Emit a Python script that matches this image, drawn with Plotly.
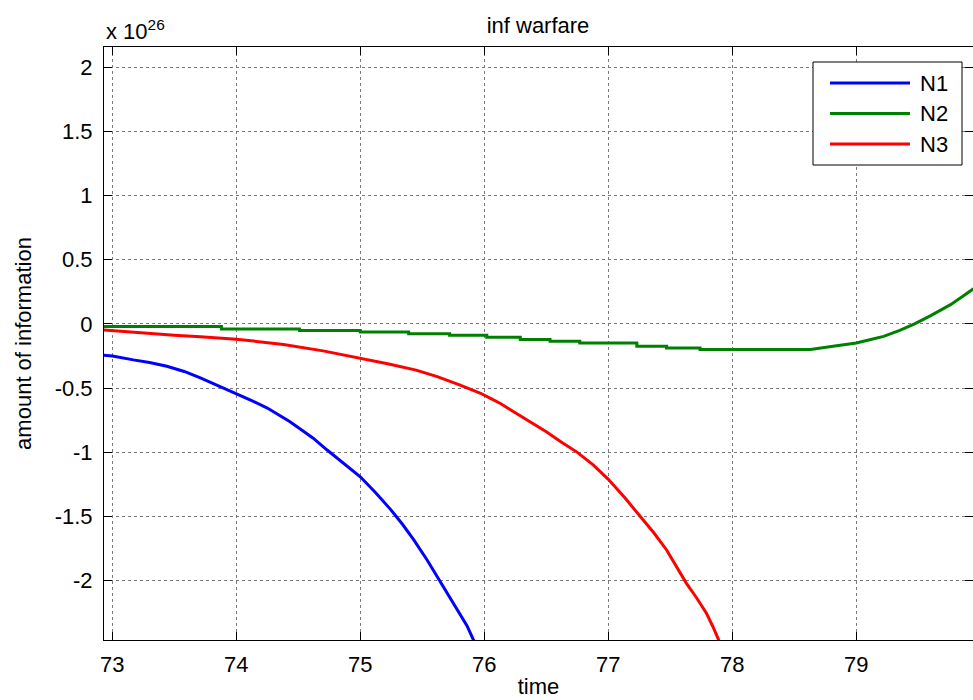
import plotly.graph_objects as go

# values in units of 1e26
n1_x = [72.90, 73.00, 73.17, 73.30, 73.44, 73.58, 73.71, 73.85, 74.00, 74.12, 74.25, 74.34, 74.43, 74.51, 74.62,
        74.73, 74.86, 75.00, 75.12, 75.24, 75.34, 75.43, 75.54, 75.64, 75.72, 75.80, 75.86, 75.91, 75.95]
n1_y = [-0.24, -0.25, -0.28, -0.30, -0.33, -0.37, -0.42, -0.48, -0.54, -0.595, -0.655, -0.705, -0.76, -0.815, -0.89,
        -0.98, -1.08, -1.19, -1.31, -1.44, -1.56, -1.68, -1.84, -2.0, -2.12, -2.25, -2.35, -2.455, -2.52]

n2_x = [72.90, 73.88, 73.88, 74.51, 74.51, 75.00, 75.00, 75.39, 75.39, 75.72, 75.72, 76.02, 76.02, 76.29, 76.29,
        76.53, 76.53, 76.77, 76.77, 77.23, 77.23, 77.47, 77.47, 77.74, 77.74, 78.63, 78.77, 78.92, 79.00, 79.10,
        79.22, 79.35, 79.47, 79.60, 79.70, 79.76, 79.85, 79.94, 80.0]
n2_y = [-0.02, -0.02, -0.04, -0.04, -0.052, -0.052, -0.062, -0.062, -0.076, -0.076, -0.089, -0.089, -0.104, -0.104, -0.122,
        -0.122, -0.135, -0.135, -0.148, -0.148, -0.174, -0.174, -0.187, -0.187, -0.20, -0.20, -0.18, -0.16, -0.148, -0.125,
        -0.097, -0.05, 0.0, 0.065, 0.12, 0.15, 0.21, 0.27, 0.31]

n3_x = [72.90, 73.30, 73.50, 73.71, 74.00, 74.20, 74.38, 74.70, 75.00, 75.22, 75.45, 75.62, 75.80, 75.97, 76.05,
        76.13, 76.23, 76.37, 76.50, 76.62, 76.75, 76.88, 77.00, 77.13, 77.26, 77.37, 77.47, 77.55, 77.63, 77.71,
        77.79, 77.84, 77.89, 77.93]
n3_y = [-0.045, -0.076, -0.088, -0.10, -0.12, -0.14, -0.16, -0.21, -0.265, -0.31, -0.36, -0.41, -0.475, -0.54, -0.58,
        -0.62, -0.68, -0.76, -0.84, -0.92, -1.0, -1.10, -1.21, -1.35, -1.50, -1.63, -1.76, -1.89, -2.02, -2.13,
        -2.25, -2.35, -2.46, -2.53]

series_names = ["N1", "N2", "N3"]
series_colors = ["#0000FF", "#008000", "#FF0000"]

x_ticks = [73, 74, 75, 76, 77, 78, 79]
y_ticks = [-2, -1.5, -1, -0.5, 0, 0.5, 1, 1.5, 2]
y_tick_text = ["-2", "-1.5", "-1", "-0.5", "0", "0.5", "1", "1.5", "2"]

FONT = "Liberation Sans, Arial, sans-serif"
FS = 22

fig = go.Figure()
for xs, ys, name, col in zip([n1_x, n2_x, n3_x], [n1_y, n2_y, n3_y], series_names, series_colors):
    fig.add_trace(go.Scatter(x=xs, y=ys, mode="lines", name=name,
                             line=dict(color=col, width=3), showlegend=False))

axis_common = dict(showline=True, linecolor="black", linewidth=1, mirror="ticks",
                   ticks="inside", ticklen=8, tickcolor="black",
                   showgrid=True, gridcolor="#7a7a7a", griddash="dot", gridwidth=1,
                   zeroline=False, tickfont=dict(family=FONT, size=FS, color="black"))

fig.update_xaxes(range=[72.933, 79.941], tickvals=x_ticks, ticktext=[str(v) for v in x_ticks],
                 title=dict(text="time", font=dict(family=FONT, size=FS, color="black"), standoff=2),
                 ticklabelstandoff=5, **axis_common)
fig.update_yaxes(range=[-2.461, 2.156], tickvals=y_ticks, ticktext=y_tick_text,
                 title=dict(text="amount of information", font=dict(family=FONT, size=FS, color="black"), standoff=16),
                 ticklabelstandoff=6, **axis_common)

# custom legend (MATLAB-style long line samples)
shapes = [dict(type="rect", xref="paper", yref="paper", x0=(813-104)/869, x1=(962-104)/869,
               y0=(640-165)/593, y1=(640-62)/593, line=dict(color="black", width=1), fillcolor="white", layer="above")]
annots = []
for i, (name, col) in enumerate(zip(series_names, series_colors)):
    ypx = 83 + i * 30.5
    yp = (640 - ypx) / 593
    shapes.append(dict(type="line", xref="paper", yref="paper", x0=(830-104)/869, x1=(910-104)/869,
                       y0=yp, y1=yp, line=dict(color=col, width=3), layer="above"))
    annots.append(dict(text=name, xref="paper", yref="paper", x=(918-104)/869, y=yp, xanchor="left",
                       yanchor="middle", showarrow=False, font=dict(family=FONT, size=FS, color="black")))

annots.append(dict(text="x 10<sup>26</sup>", xref="paper", yref="paper", x=0, y=1.0, xanchor="left",
                   yanchor="bottom", yshift=1, showarrow=False, font=dict(family=FONT, size=FS, color="black")))

fig.update_layout(
    width=973, height=700,
    margin=dict(l=104, r=0, t=47, b=60),
    paper_bgcolor="white", plot_bgcolor="white",
    title=dict(text="inf warfare", x=(538 / 973), xanchor="center", y=1 - 25 / 700, yanchor="middle",
               font=dict(family=FONT, size=FS, color="black")),
    shapes=shapes, annotations=annots,
)

fig.write_html("out.html")
